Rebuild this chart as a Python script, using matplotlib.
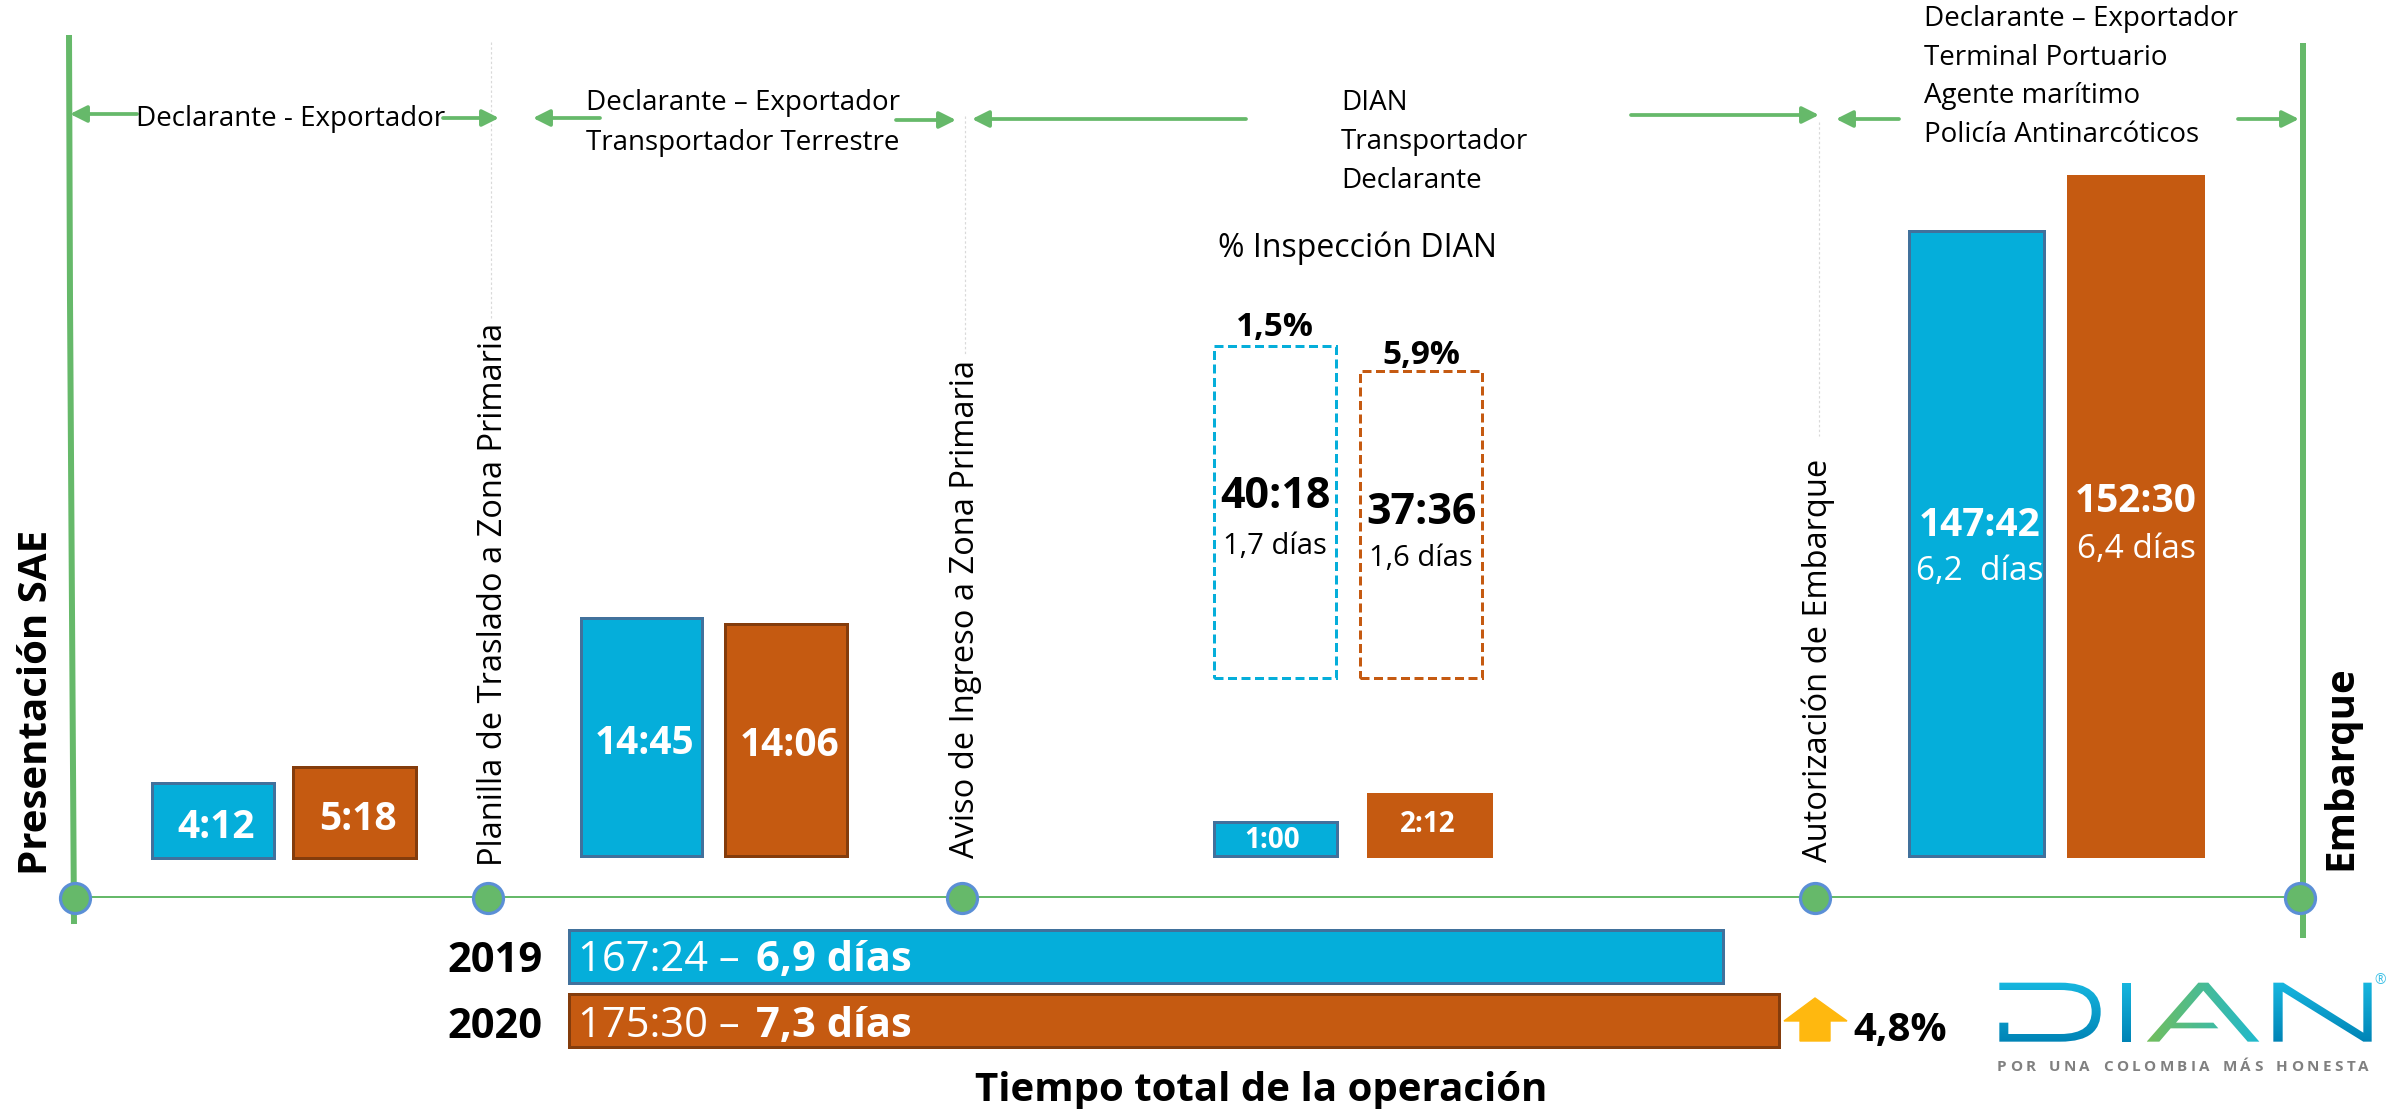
import matplotlib
matplotlib.use("Agg")
import matplotlib.pyplot as plt
import numpy as np
from matplotlib.path import Path
from matplotlib.patches import PathPatch, Polygon
from matplotlib.font_manager import FontProperties

# ---------- data ----------
years = ["2019", "2020"]
stage_labels_2019 = ["4:12", "14:45", "1:00", "147:42"]
stage_labels_2020 = ["5:18", "14:06", "2:12", "152:30"]
# drawn bar heights (schematic in the source)
stage_height_2019 = [75, 238, 34, 625]
stage_height_2020 = [91, 232, 62, 680]
inspect_labels = ["40:18", "37:36"]
inspect_days = ["1,7 días", "1,6 días"]
inspect_pct = ["1,5%", "5,9%"]
inspect_height = [332, 307]
long_days = ["6,2  días", "6,4 días"]
total_hours = [167.4, 175.5]
total_time = ["167:24", "175:30"]
total_days = ["6,9 días", "7,3 días"]
increase = "4,8%"
milestones = ["Presentación SAE", "Planilla de Traslado a Zona Primaria",
              "Aviso de Ingreso a Zona Primaria", "Autorización de Embarque", "Embarque"]
actors = ["Declarante - Exportador",
          "Declarante – Exportador\nTransportador Terrestre",
          "DIAN\nTransportador\nDeclarante",
          "Declarante – Exportador\nTerminal Portuario\nAgente marítimo\nPolicía Antinarcóticos"]

# ---------- style / layout ----------
W, H = 2397, 1109
BLUE, BLUE_E = "#05AEDA", "#41719C"
ORANGE, ORANGE_E = "#C55A11", "#843C0C"
GREEN = "#66B96A"
FONT = "Open Sans"
px = 0.72  # one pixel in points at dpi 100

fig = plt.figure(figsize=(W / 100, H / 100), dpi=100)
ax = fig.add_axes([0, 0, 1, 1], zorder=2)
ax.set_xlim(0, W)
ax.set_ylim(H, 0)
ax.axis("off")
R = fig.canvas.get_renderer()


def txt(x, y, s, size, weight="normal", color="black", rot=0, ha="center", va="center", **k):
    if rot == 0 and va == "center":
        y = y + 4  # centre of glyphs, not of the line box
    return ax.text(x, y, s, fontsize=size, fontweight=weight, color=color, rotation=rot,
                   ha=ha, va=va, family=FONT, **k)


# ---------- timeline ----------
ax.plot([74, 2298], [897, 897], color=GREEN, lw=2 * px, zorder=1)
ax.plot([69, 70, 74], [35, 300, 924], color=GREEN, lw=6 * px, solid_capstyle="butt", zorder=1)
ax.plot([2303, 2303], [43, 938], color=GREEN, lw=6 * px, solid_capstyle="butt", zorder=1)
ms_x = [74.5, 488, 961.5, 1815, 2300]
ax.scatter(ms_x, [898] * 5, s=(30 * px) ** 2, color=GREEN, edgecolor="#5B8FD6", linewidth=3.2 * px, zorder=3)
for x0, y0, y1 in [(491, 42, 318), (965, 116, 355), (1819, 122, 436)]:
    ax.plot([x0, x0], [y0, y1], color="#D9D9D9", lw=1.2 * px, ls=(0, (2, 2)), zorder=1)

# ---------- actor arrows ----------
arrows = [(137, 114, 70, 114), (443, 118, 499, 118), (600, 118, 533, 118), (896, 120, 956, 120),
          (1246, 119, 972, 119), (1631, 115, 1819, 115), (1899, 119, 1836, 119), (2238, 119, 2299, 119)]
for x0, y0, x1, y1 in arrows:
    ax.annotate("", xy=(x1, y1), xytext=(x0, y0),
                arrowprops=dict(arrowstyle="-|>,head_length=1.0,head_width=0.5", mutation_scale=10,
                                lw=2.7, color=GREEN, shrinkA=0, shrinkB=0))

A = 20
LS = 1.52
txt(291, 115, actors[0], A)
txt(586, 119, actors[1], A, ha="left", linespacing=1.58)
txt(1341, 138, actors[2], A, ha="left", linespacing=LS)
txt(1924, 73, actors[3], A, ha="left", linespacing=LS)
txt(1358, 244, "% Inspección DIAN", 23)

# ---------- stage bars ----------
blue_x = [213, 641.5, 1275.5, 1976]
orange_x = [354.5, 786, 1429.5, 2135]
widths_b = [122, 121, 123, 135]
widths_o = [123, 122, 123, 135]
bases = [858, 856, 855.5, 856]
ax.bar(blue_x, [-h for h in stage_height_2019], width=widths_b, bottom=bases, color=BLUE,
       edgecolor=BLUE_E, linewidth=3 * px, zorder=2)
ax.bar(orange_x, [-h for h in stage_height_2020], width=widths_o, bottom=bases, color=ORANGE,
       edgecolor=[ORANGE_E, ORANGE_E, ORANGE, ORANGE], linewidth=3 * px, zorder=2)

lx_b = [216, 645, 1272, 1980]
ly_b = [823, 740, 837, 522]
lx_o = [358, 790, 1428, 2136]
ly_o = [815, 742, 821, 497]
sz = [28, 28, 20, 28]
for i in range(4):
    txt(lx_b[i], ly_b[i], stage_labels_2019[i], sz[i], "bold", "white", zorder=4)
    txt(lx_o[i], ly_o[i], stage_labels_2020[i], sz[i], "bold", "white", zorder=4)
txt(1980, 567, long_days[0], 24, color="white", zorder=4)
txt(2136, 546, long_days[1], 24, color="white", zorder=4)

# ---------- inspection (dashed) ----------
dash_x = [1275, 1421]
for x, h, c, lab, d, p, ly, dy, py in zip(dash_x, inspect_height, [BLUE, ORANGE], inspect_labels,
                                          inspect_days, inspect_pct, [493, 509], [542, 554], [324, 351]):
    ax.bar(x, -h, width=122, bottom=678, facecolor="none", edgecolor=c, linewidth=3 * px,
           linestyle=(0, (3, 1.5)), zorder=2)
    txt(x, ly, lab, 31, "bold")
    txt(x, dy, d, 21)
    txt(x, py, p, 24, "bold")

# ---------- milestone labels ----------
txt(37, 702, milestones[0], 29, "bold", rot=90)
txt(493, 594, milestones[1], 23.5, rot=90)
txt(965, 609, milestones[2], 23.5, rot=90)
txt(1818, 660, milestones[3], 23.5, rot=90)
txt(2341, 768, milestones[4], 29, "bold", rot=90)

# ---------- total bars (true hour scale) ----------
x0_px, x1_px = 569, 1779
y0_px, y1_px = 925, 1052
axt = fig.add_axes([x0_px / W, 1 - y1_px / H, (x1_px - x0_px) / W, (y1_px - y0_px) / H], zorder=1)
axt.set_xlim(0, total_hours[1])
axt.set_ylim(1.5, -0.5)
axt.axis("off")
axt.barh([0, 1], total_hours, height=0.83, color=[BLUE, ORANGE], edgecolor=[BLUE_E, ORANGE_E],
         linewidth=3 * px, clip_on=False)

for i, yy in enumerate([958, 1024]):
    txt(495, yy, years[i], 30, "bold", zorder=5)
    base = yy + 13
    t1 = txt(578, base, total_time[i] + " – ", 30, color="white", ha="left", va="baseline", zorder=5)
    bb = t1.get_window_extent(R)
    txt(bb.x1 + 5, base, total_days[i], 30, "bold", "white", ha="left", va="baseline", zorder=5)

ax.add_patch(Polygon([[1784, 1021], [1815, 998], [1847, 1021], [1830, 1021], [1830, 1041], [1800, 1041], [1800, 1021]],
                     closed=True, color="#FFB80F", zorder=3))
txt(1900, 1027, increase, 29, "bold")
txt(1261, 1086, "Tiempo total de la operación", 29, "bold")


# ---------- logo ----------
def Z(p):
    return (1950 + p[0] / 3, 900 + p[1] / 3)


def grad_patch(verts, codes, colors, horizontal=False):
    v = [Z(p) for p in verts]
    path = Path(v, codes)
    patch = PathPatch(path, facecolor="none", edgecolor="none", transform=ax.transData)
    ax.add_patch(patch)
    c = np.array([matplotlib.colors.to_rgb(k) for k in colors])
    t = np.linspace(0, 1, 64)
    g = (1 - t)[:, None] * c[0] + t[:, None] * c[1]
    img = g[None, :, :] if horizontal else g[:, None, :]
    xs = [a[0] for a in v]
    ys = [a[1] for a in v]
    im = ax.imshow(img, extent=(min(xs), max(xs), max(ys), min(ys)), aspect="auto", zorder=3, interpolation="bilinear")
    im.set_clip_path(patch)
    ax.set_xlim(0, W)
    ax.set_ylim(H, 0)


M, L, C, X = Path.MOVETO, Path.LINETO, Path.CURVE4, Path.CLOSEPOLY
LB = ("#17B6DF", "#0084B6")
grad_patch([(148, 248), (330, 248), (420, 248), (452, 285), (452, 335), (452, 390), (420, 425), (330, 425),
            (148, 425), (148, 368), (175, 368), (175, 402), (330, 402), (400, 402), (425, 375), (425, 335),
            (425, 295), (400, 270), (330, 270), (148, 270), (148, 248)],
           [M, L, C, C, C, C, C, C, L, L, L, L, L, C, C, C, C, C, C, L, X], LB)
grad_patch([(515, 248), (543, 248), (543, 425), (515, 425), (515, 248)], [M, L, L, L, X], LB)
grad_patch([(590, 425), (745, 248), (775, 248), (928, 425), (893, 425), (760, 272), (678, 368), (790, 368),
            (805, 385), (662, 385), (628, 425), (590, 425)], [M] + [L] * 10 + [X], ("#72BE5C", "#1FB9CF"), True)
grad_patch([(970, 248), (1000, 248), (1240, 398), (1240, 248), (1265, 248), (1265, 425), (1240, 425), (998, 275),
            (998, 425), (970, 425), (970, 248)], [M] + [L] * 9 + [X], LB)
txt(2380, 976, "®", 10, color="#3FC1E6")

tag = "POR UNA COLOMBIA MÁS HONESTA"
fp = FontProperties(family=FONT, size=11, weight="bold")
ws = [R.get_text_width_height_descent(c if c != " " else "n", fp, False)[0] * (0.6 if c == " " else 1) for c in tag]
gap = (2369 - 1997 - sum(ws)) / (len(tag) - 1)
xc = 1997
for c, w in zip(tag, ws):
    if c != " ":
        txt(xc, 1063, c, 11, "bold", "#808080", ha="left")
    xc += w + gap

fig.savefig("out.png", dpi=100)
